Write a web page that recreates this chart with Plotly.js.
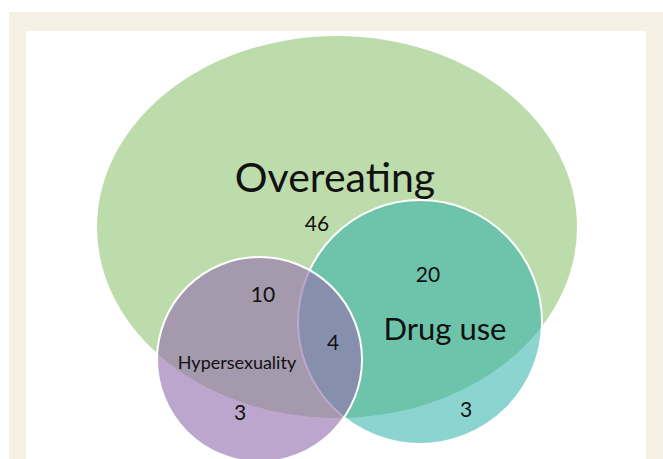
<!DOCTYPE html>
<html>
<head>
<meta charset="utf-8">
<script src="https://cdn.plot.ly/plotly-3.0.1.min.js"></script>
<style>html,body{margin:0;padding:0;background:#fff;}#chart{width:663px;height:459px;}</style>
</head>
<body>
<div id="chart"></div>
<script>
// ---- data ----
const setNames = ["Overeating", "Drug use", "Hypersexuality"];
const regionNames = ["Overeating only", "Overeating & Drug use", "Overeating & Hypersexuality",
                     "All three", "Hypersexuality only", "Drug use only"];
const regionCounts = [46, 20, 10, 4, 3, 3];

// ---- layout geometry (drawing coordinates on axes) ----
const regionPos = [[317, 226], [428, 277], [263, 297], [333, 345], [240, 415], [466, 412]];
const setLabelPos = [[335, 182], [445, 332], [237, 364]];
const setLabelSize = [41, 31, 18];
const setShapes = [
  {x0: 97, x1: 577, y0: 36, y1: 418, fill: "rgb(189,220,171)", line: 0},
  {x0: 298, x1: 542, y0: 200, y1: 444, fill: "rgba(46,177,170,0.55)", line: 2},
  {x0: 157, x1: 362, y0: 257, y1: 462, fill: "rgba(148,112,174,0.62)", line: 2}
];

const shapes = [
  {type: "rect", xref: "x", yref: "y", x0: 9, x1: 663, y0: 12, y1: 470, fillcolor: "#f4f1e4", line: {width: 0}, layer: "below"},
  {type: "rect", xref: "x", yref: "y", x0: 26, x1: 646, y0: 31, y1: 470, fillcolor: "#ffffff", line: {width: 0}, layer: "below"}
];
setShapes.forEach(s => shapes.push({
  type: "circle", xref: "x", yref: "y", x0: s.x0, x1: s.x1, y0: s.y0, y1: s.y1,
  fillcolor: s.fill, line: {color: "#ffffff", width: s.line}, layer: "below"
}));

const traces = [
  {
    type: "scatter", mode: "text",
    x: regionPos.map(p => p[0]), y: regionPos.map(p => p[1]),
    text: regionCounts.map(String),
    hovertext: regionNames,
    textposition: "middle center",
    textfont: {family: "Lato, 'Open Sans', sans-serif", size: 21, color: "#111"},
    showlegend: false, cliponaxis: false
  },
  {
    type: "scatter", mode: "text",
    x: setLabelPos.map(p => p[0]), y: setLabelPos.map(p => p[1]),
    text: setNames,
    textposition: "middle center",
    textfont: {family: "Lato, 'Open Sans', sans-serif", size: setLabelSize, color: "#111"},
    showlegend: false, cliponaxis: false
  }
];

const layout = {
  width: 663, height: 459,
  margin: {l: 0, r: 0, t: 0, b: 0, pad: 0},
  paper_bgcolor: "#ffffff", plot_bgcolor: "#ffffff",
  xaxis: {range: [0, 663], visible: false, fixedrange: true},
  yaxis: {range: [459, 0], visible: false, fixedrange: true},
  shapes: shapes,
  showlegend: false
};

Plotly.newPlot("chart", traces, layout, {displayModeBar: false, staticPlot: true});
</script>
</body>
</html>
